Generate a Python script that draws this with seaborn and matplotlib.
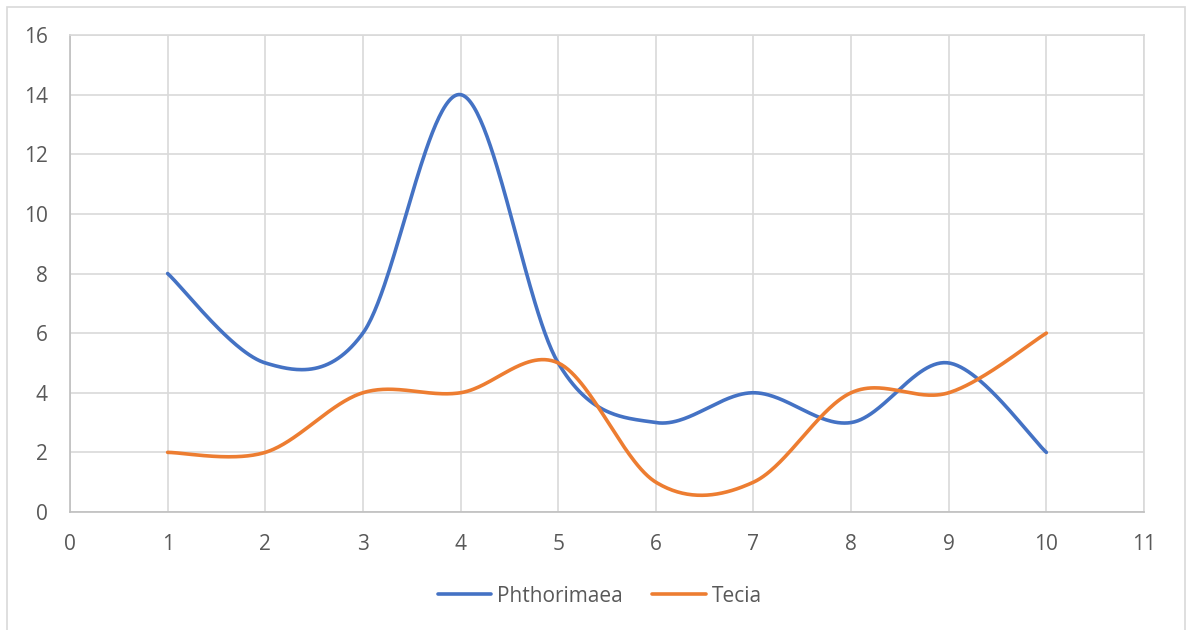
import numpy as np
import pandas as pd
import matplotlib
matplotlib.use("Agg")
import matplotlib.pyplot as plt
from matplotlib.patches import Rectangle
import seaborn as sns

# Weekly counts per pest species
x_values = [1, 2, 3, 4, 5, 6, 7, 8, 9, 10]
phthorimaea = [8, 5, 6, 14, 5, 3, 4, 3, 5, 2]
tecia = [2, 2, 4, 4, 5, 1, 1, 4, 4, 6]
series_names = ["Phthorimaea", "Tecia"]
series_colors = ["#4472C4", "#ED7D31"]

x_ticks = list(range(0, 12))
y_ticks = list(range(0, 17, 2))


def smooth_curve(xs, ys, n=60):
    """Catmull-Rom style cubic Bezier smoothing through every point."""
    pts = np.column_stack([xs, ys]).astype(float)
    ext = np.vstack([pts[0], pts, pts[-1]])
    t = np.linspace(0, 1, n)[:, None]
    out = []
    for i in range(len(pts) - 1):
        p0, p1, p2, p3 = ext[i], ext[i + 1], ext[i + 2], ext[i + 3]
        c1 = p1 + (p2 - p0) / 6.0
        c2 = p2 - (p3 - p1) / 6.0
        seg = ((1 - t) ** 3) * p1 + 3 * ((1 - t) ** 2) * t * c1 + 3 * (1 - t) * t ** 2 * c2 + t ** 3 * p2
        out.append(seg if i == 0 else seg[1:])
    return np.vstack(out)


frames = []
for name, ys in zip(series_names, [phthorimaea, tecia]):
    curve = smooth_curve(x_values, ys)
    frames.append(pd.DataFrame({"x": curve[:, 0], "y": curve[:, 1], "series": name,
                                "order": np.arange(len(curve))}))
df = pd.concat(frames, ignore_index=True)

sns.set_theme(style="white")
plt.rcParams["font.family"] = ["Open Sans", "DejaVu Sans"]

W, H = 1188, 630
fig = plt.figure(figsize=(W / 100, H / 100), dpi=100)
ax = fig.add_axes([70 / W, 1 - 512 / H, (1144 - 70) / W, (512 - 35) / H])

grid_c = "#D9D9D9"
text_c = "#595959"
fs = 15

sns.lineplot(data=df, x="x", y="y", hue="series", hue_order=series_names,
             palette=series_colors, sort=False, estimator=None, units="series",
             linewidth=2.6, ax=ax, legend=False)

ax.set_xlim(0, 11)
ax.set_ylim(0, 16)
ax.set_xticks(x_ticks)
ax.set_yticks(y_ticks)
ax.set_xticklabels([str(v) for v in x_ticks])
ax.set_yticklabels([str(v) for v in y_ticks])
ax.grid(True, color=grid_c, linewidth=1.2)
ax.set_axisbelow(True)
for s in ax.spines.values():
    s.set_color(grid_c)
    s.set_linewidth(1.2)
ax.spines["left"].set_color("#BFBFBF")
ax.spines["bottom"].set_color("#BFBFBF")
ax.tick_params(axis="both", length=0, labelsize=fs, labelcolor=text_c)
ax.tick_params(axis="y", pad=16)
ax.tick_params(axis="x", pad=16)
ax.set_xlabel("")
ax.set_ylabel("")

handles = [plt.Line2D([0], [0], color=c, lw=2.6, solid_capstyle="round") for c in series_colors]
fig.legend(handles, series_names, loc="center", bbox_to_anchor=(0.5 + 6 / W, 1 - 596 / H),
           ncol=2, frameon=False, fontsize=fs, labelcolor=text_c,
           handlelength=2.55, handletextpad=0.3, columnspacing=1.4)

# Chart-area border
fig.patches.append(Rectangle((7 / W, -0.05), (1185 - 7) / W, 1.05 - 6.5 / H,
                             transform=fig.transFigure, fill=False,
                             edgecolor=grid_c, linewidth=1.2))

fig.savefig("out.png", dpi=100)
